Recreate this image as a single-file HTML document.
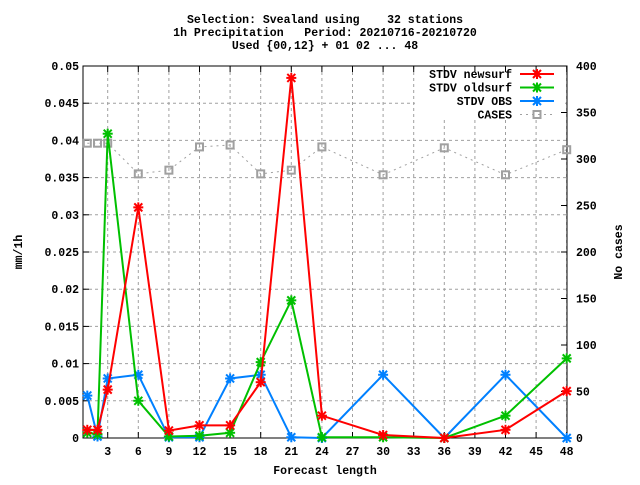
<!DOCTYPE html>
<html><head><meta charset="utf-8"><style>
body{margin:0;background:#fff}
text{font-family:"Liberation Mono","DejaVu Sans Mono",monospace;font-size:11.5px;font-weight:bold;fill:#000}
</style></head><body>
<svg id="chart" width="640" height="480" xmlns="http://www.w3.org/2000/svg">
<g>
<text x="325" y="23" text-anchor="middle" xml:space="preserve">Selection: Svealand using    32 stations</text>
<text x="325" y="36" text-anchor="middle" xml:space="preserve">1h Precipitation   Period: 20210716-20210720</text>
<text x="325" y="49" text-anchor="middle">Used {00,12} + 01 02 ... 48</text>
</g>
<g id="grid"></g>
<rect x="415" y="67" width="150" height="52" fill="#fff"/>
<g id="axes"></g>
<g id="series"></g>
<text x="325" y="474" text-anchor="middle">Forecast length</text>
<text transform="translate(22,252) rotate(-90)" text-anchor="middle">mm/1h</text>
<text transform="translate(622,252) rotate(-90)" text-anchor="middle">No cases</text>
<g id="legend"></g>
</svg>
<script>
const xs=[1,2,3,6,9,12,15,18,21,24,30,36,42,48];
const newsurf=[0.0011,0.0011,0.0065,0.031,0.001,0.0017,0.0017,0.0075,0.0484,0.003,0.0004,0.0,0.0011,0.0063];
const oldsurf=[0.0007,0.0005,0.0409,0.005,0.0002,0.0003,0.0007,0.0102,0.0185,0.0001,0.0001,0.0,0.003,0.0107];
const obs=[0.0057,0.0002,0.008,0.0085,0.0001,0.0001,0.008,0.0085,0.0001,0.0,0.0085,0.0,0.0085,0.0];
const cases=[317,317,317,284,288,313,315,284,288,313,283,312,283,310];
const xTicks=[3,6,9,12,15,18,21,24,27,30,33,36,39,42,45,48];
const yTicks=[0,0.005,0.01,0.015,0.02,0.025,0.03,0.035,0.04,0.045,0.05];
const yTickLabels=["0","0.005","0.01","0.015","0.02","0.025","0.03","0.035","0.04","0.045","0.05"];
const y2Ticks=[0,50,100,150,200,250,300,350,400];
const NS="http://www.w3.org/2000/svg";
const L=83,R=567,T=66,B=438;
const X=v=>566.7+(v-48)*10.2;
const Y=v=>B-(v/0.05)*(B-T);
const Y2=v=>B-(v/400)*(B-T);
function mk(tag,attrs,parent){const e=document.createElementNS(NS,tag);for(const k in attrs)e.setAttribute(k,attrs[k]);parent.appendChild(e);return e;}
const grid=document.getElementById('grid'),axes=document.getElementById('axes'),ser=document.getElementById('series'),leg=document.getElementById('legend');
xTicks.forEach(t=>{const x=X(t);
 const g=mk('line',{x1:x,x2:x,y1:T,y2:B,stroke:'#a0a0a0','stroke-dasharray':'3,3'},grid);
 
 mk('line',{x1:x,x2:x,y1:B,y2:B-6,stroke:'#000'},axes);mk('line',{x1:x,x2:x,y1:T,y2:T+6,stroke:'#000'},axes);
 const tx=mk('text',{x:x,y:B+17,'text-anchor':'middle'},axes);tx.textContent=t;
 });
yTicks.forEach((t,i)=>{const y=Y(t);
 if(i>0&&i<yTicks.length-1){const g=mk('line',{x1:L,x2:R,y1:y,y2:y,stroke:'#a0a0a0','stroke-dasharray':'3,3'},grid);
 }
 mk('line',{x1:L,x2:L+6,y1:y,y2:y,stroke:'#000'},axes);
 const tx=mk('text',{x:L-4,y:y+4,'text-anchor':'end'},axes);tx.textContent=yTickLabels[i];
 });
y2Ticks.forEach(t=>{const y=Y2(t);
 mk('line',{x1:R,x2:R-6,y1:y,y2:y,stroke:'#000'},axes);
 const tx=mk('text',{x:R+9,y:y+4,'text-anchor':'start'},axes);tx.textContent=t;
 });
const fr=mk('rect',{x:L,y:T,width:R-L,height:B-T,fill:'none',stroke:'#000'},axes);

function star(x,y,c,p){[[-4,-4,4,4],[-4,4,4,-4],[-5,0,5,0],[0,-5,0,5]].forEach(d=>mk('line',{x1:x+d[0],y1:y+d[1],x2:x+d[2],y2:y+d[3],stroke:c,'stroke-width':2},p));}
function drawSeries(vals,yf,color,name,cas){
 const g=mk('g',{},ser);
 const pts=vals.map((v,i)=>X(xs[i])+','+yf(v)).join(' ');
 mk('polyline',cas?{points:pts,fill:'none',stroke:'#a0a0a0','stroke-dasharray':'2,4'}:{points:pts,fill:'none',stroke:color,'stroke-width':2},g);
 vals.forEach((v,i)=>{if(cas){const r=mk('rect',{x:X(xs[i])-3.5,y:yf(v)-3.5,width:7,height:7,fill:'none',stroke:'#a0a0a0','stroke-width':2},g);
   }
  else star(X(xs[i]),yf(v),color,g);});
}
drawSeries(cases,Y2,'#a0a0a0','series-cases',true);
drawSeries(obs,Y,'#0080ff','series-stdv-obs',false);
drawSeries(oldsurf,Y,'#00c000','series-stdv-oldsurf',false);
drawSeries(newsurf,Y,'#ff0000','series-stdv-newsurf',false);
const legItems=[['STDV newsurf','#ff0000',false],['STDV oldsurf','#00c000',false],['STDV OBS','#0080ff',false],['CASES','#a0a0a0',true]];
legItems.forEach((it,i)=>{const y=74+i*13.5;
 const g=mk('g',{},leg);
 const t=mk('text',{x:512,y:y+4,'text-anchor':'end'},g);t.textContent=it[0];
 if(it[2]){mk('line',{x1:520,x2:554,y1:y,y2:y,stroke:'#a0a0a0','stroke-dasharray':'2,4'},g);
  mk('rect',{x:533.5,y:y-3.5,width:7,height:7,fill:'none',stroke:'#a0a0a0','stroke-width':2},g);}
 else{mk('line',{x1:520,x2:554,y1:y,y2:y,stroke:it[1],'stroke-width':2},g);star(537,y,it[1],g);}
});
</script>
</body></html>
